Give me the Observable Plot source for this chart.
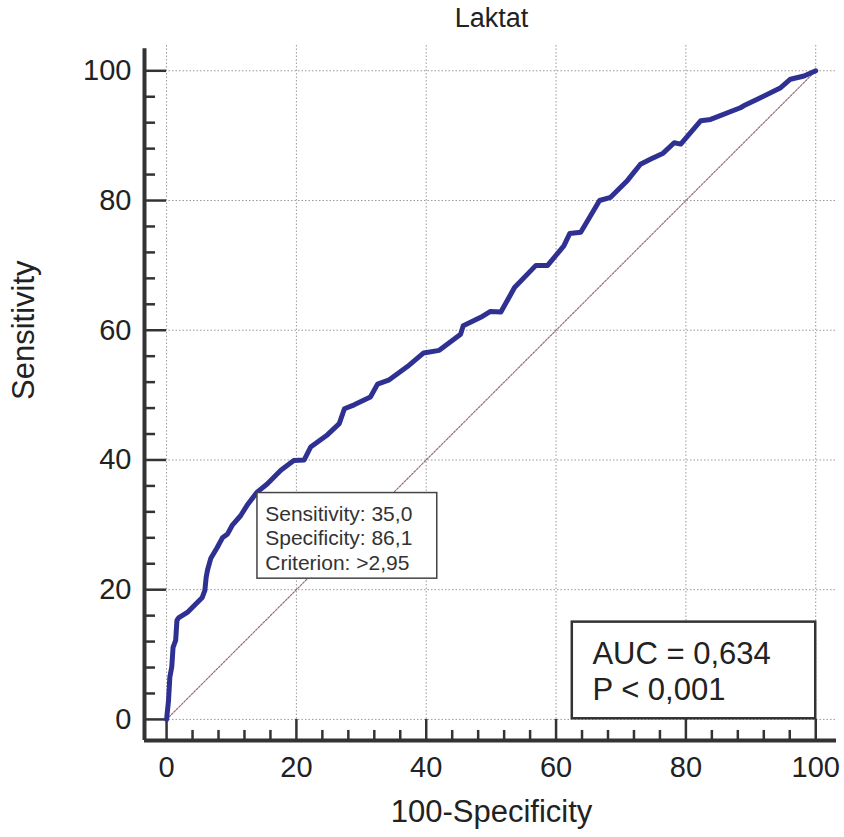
<!DOCTYPE html>
<html>
<head>
<meta charset="utf-8">
<script src="https://cdn.jsdelivr.net/npm/d3@7"></script>
<script src="https://cdn.jsdelivr.net/npm/@observablehq/plot@0.6"></script>
<style>
  html, body { margin: 0; padding: 0; background: #fff; }
  #chart { width: 844px; height: 837px; }
</style>
</head>
<body>
<div id="chart"></div>
<script>
// ---- Data ----
const title = "Laktat";
const xLabel = "100-Specificity";
const yLabel = "Sensitivity";

// ROC curve: 100-Specificity (x) vs Sensitivity (y)
const rocX = [0, 0.3, 0.5, 0.8, 1.0, 1.4, 1.6, 1.9, 3.2, 4.0, 5.0, 5.5, 5.9, 6.1, 6.3, 6.8, 7.8, 8.6, 9.4, 10.1,
  11.4, 12.4, 13.9, 15.5, 17.6, 19.6, 21.2, 22.2, 24.8, 26.6, 27.4, 28.9, 31.4, 32.5, 34.2, 37.1, 39.6, 42.0, 45.3, 45.7,
  48.4, 49.9, 51.5, 53.6, 56.9, 58.7, 61.2, 62.1, 63.8, 66.7, 68.4, 71.0, 73.0, 74.6, 76.5, 78.2, 79.2, 82.3, 83.8, 88.4,
  88.9, 91.0, 94.6, 96.1, 98.2, 100];
const rocY = [0, 2.9, 6.5, 8.1, 11.1, 12.2, 15.3, 15.7, 16.5, 17.3, 18.3, 18.8, 19.9, 21.9, 23.0, 24.8, 26.5, 28.0, 28.6, 29.9,
  31.4, 33.0, 35.0, 36.3, 38.4, 39.9, 40.0, 42.0, 43.9, 45.6, 47.9, 48.5, 49.7, 51.7, 52.3, 54.4, 56.5, 56.9, 59.4, 60.7,
  62.0, 62.9, 62.8, 66.6, 70.0, 70.0, 73.0, 74.9, 75.1, 80.0, 80.5, 83.1, 85.6, 86.4, 87.3, 88.9, 88.7, 92.3, 92.5, 94.3,
  94.6, 95.6, 97.4, 98.7, 99.2, 100];

// Reference (chance) diagonal
const diagX = [0, 100];
const diagY = [0, 100];

// Tick values
const majorTicks = [0, 20, 40, 60, 80, 100];
const minorTicks = d3.range(4, 100, 4).filter(v => v % 20 !== 0);

// Optimal criterion annotation (box anchored at the criterion point)
const critLines = ["Sensitivity: 35,0", "Specificity: 86,1", "Criterion: >2,95"];
const critBox = {x1: 14.0, x2: 41.7, y1: 21.7, y2: 34.9};
const critTextX = 15.2;
const critTextY = [30.6, 26.9, 23.0];

// AUC annotation
const aucLines = ["AUC = 0,634", "P < 0,001"];
const aucBox = {x1: 62.5, x2: 100, y1: 0.1, y2: 15.0};
const aucTextX = 65.6;
const aucTextY = [8.6, 3.0];

// ---- Build ----
const xDomain = [-3.4, 103.2];
const yDomain = [-3.25, 103.9];
const curve = rocX.map((x, i) => ({x, y: rocY[i]}));
const diag = diagX.map((x, i) => ({x, y: diagY[i]}));
const critText = critLines.map((t, i) => ({t, x: critTextX, y: critTextY[i]}));
const aucText = aucLines.map((t, i) => ({t, x: aucTextX, y: aucTextY[i]}));

const axisColor = "#333";
const font = "'Liberation Sans', Arial, sans-serif";

const chart = Plot.plot({
  width: 844,
  height: 837,
  marginLeft: 144,
  marginRight: 8,
  marginTop: 45,
  marginBottom: 97,
  style: {fontFamily: font, color: "#222", background: "#fff"},
  x: {domain: xDomain, axis: null},
  y: {domain: yDomain, axis: null},
  marks: [
    // dotted grid
    Plot.ruleX(majorTicks, {stroke: "#999", strokeWidth: 1, strokeDasharray: "1.5,2"}),
    Plot.ruleY(majorTicks, {stroke: "#999", strokeWidth: 1, strokeDasharray: "1.5,2"}),
    // diagonal
    Plot.line(diag, {x: "x", y: "y", stroke: "#9a6e72", strokeWidth: 1.2, strokeDasharray: "2,1.5"}),
    // axis lines
    Plot.ruleX([xDomain[0]], {y1: yDomain[0], y2: 103.4, stroke: axisColor, strokeWidth: 4}),
    Plot.ruleY([yDomain[0]], {x1: xDomain[0], x2: xDomain[1], stroke: axisColor, strokeWidth: 4}),
    // ticks (pointing inward)
    Plot.ruleX(majorTicks, {y1: yDomain[0], y2: 0, stroke: axisColor, strokeWidth: 2.5}),
    Plot.ruleX(minorTicks, {y1: yDomain[0], y2: -1.7, stroke: axisColor, strokeWidth: 2.5}),
    Plot.ruleY(majorTicks, {x1: xDomain[0], x2: 0, stroke: axisColor, strokeWidth: 2.5}),
    Plot.ruleY(minorTicks, {x1: xDomain[0], x2: -1.7, stroke: axisColor, strokeWidth: 2.5}),
    // tick labels
    Plot.axisX(majorTicks, {anchor: "bottom", tickSize: 0, tickPadding: 16, fontSize: 29, tickFormat: d => String(d)}),
    Plot.axisY(majorTicks, {anchor: "left", tickSize: 0, tickPadding: 13, fontSize: 29, tickFormat: d => String(d)}),
    // axis titles & title
    Plot.text([xLabel], {text: d => d, frameAnchor: "bottom", dx: 1, dy: 72, fontSize: 31, lineAnchor: "middle"}),
    Plot.text([yLabel], {text: d => d, frameAnchor: "left", dx: -120, dy: 7, fontSize: 31, rotate: -90, lineAnchor: "middle"}),
    Plot.text([title], {text: d => d, frameAnchor: "top", dx: 1, dy: -27, fontSize: 27, lineAnchor: "middle"}),
    // ROC curve
    Plot.line(curve, {x: "x", y: "y", stroke: "#2e3192", strokeWidth: 5, strokeLinejoin: "round", strokeLinecap: "round"}),
    // criterion box
    Plot.rect([critBox], {x1: "x1", x2: "x2", y1: "y1", y2: "y2", fill: "#fff", stroke: "#444", strokeWidth: 1.5}),
    Plot.text(critText, {x: "x", y: "y", text: "t", textAnchor: "start", lineAnchor: "bottom", fontSize: 21, fill: "#333"}),
    // AUC box
    Plot.rect([aucBox], {x1: "x1", x2: "x2", y1: "y1", y2: "y2", fill: "#fff", stroke: "#333", strokeWidth: 2.5}),
    Plot.text(aucText, {x: "x", y: "y", text: "t", textAnchor: "start", lineAnchor: "bottom", fontSize: 31, fill: "#222"})
  ]
});
document.getElementById("chart").appendChild(chart);
</script>
</body>
</html>
